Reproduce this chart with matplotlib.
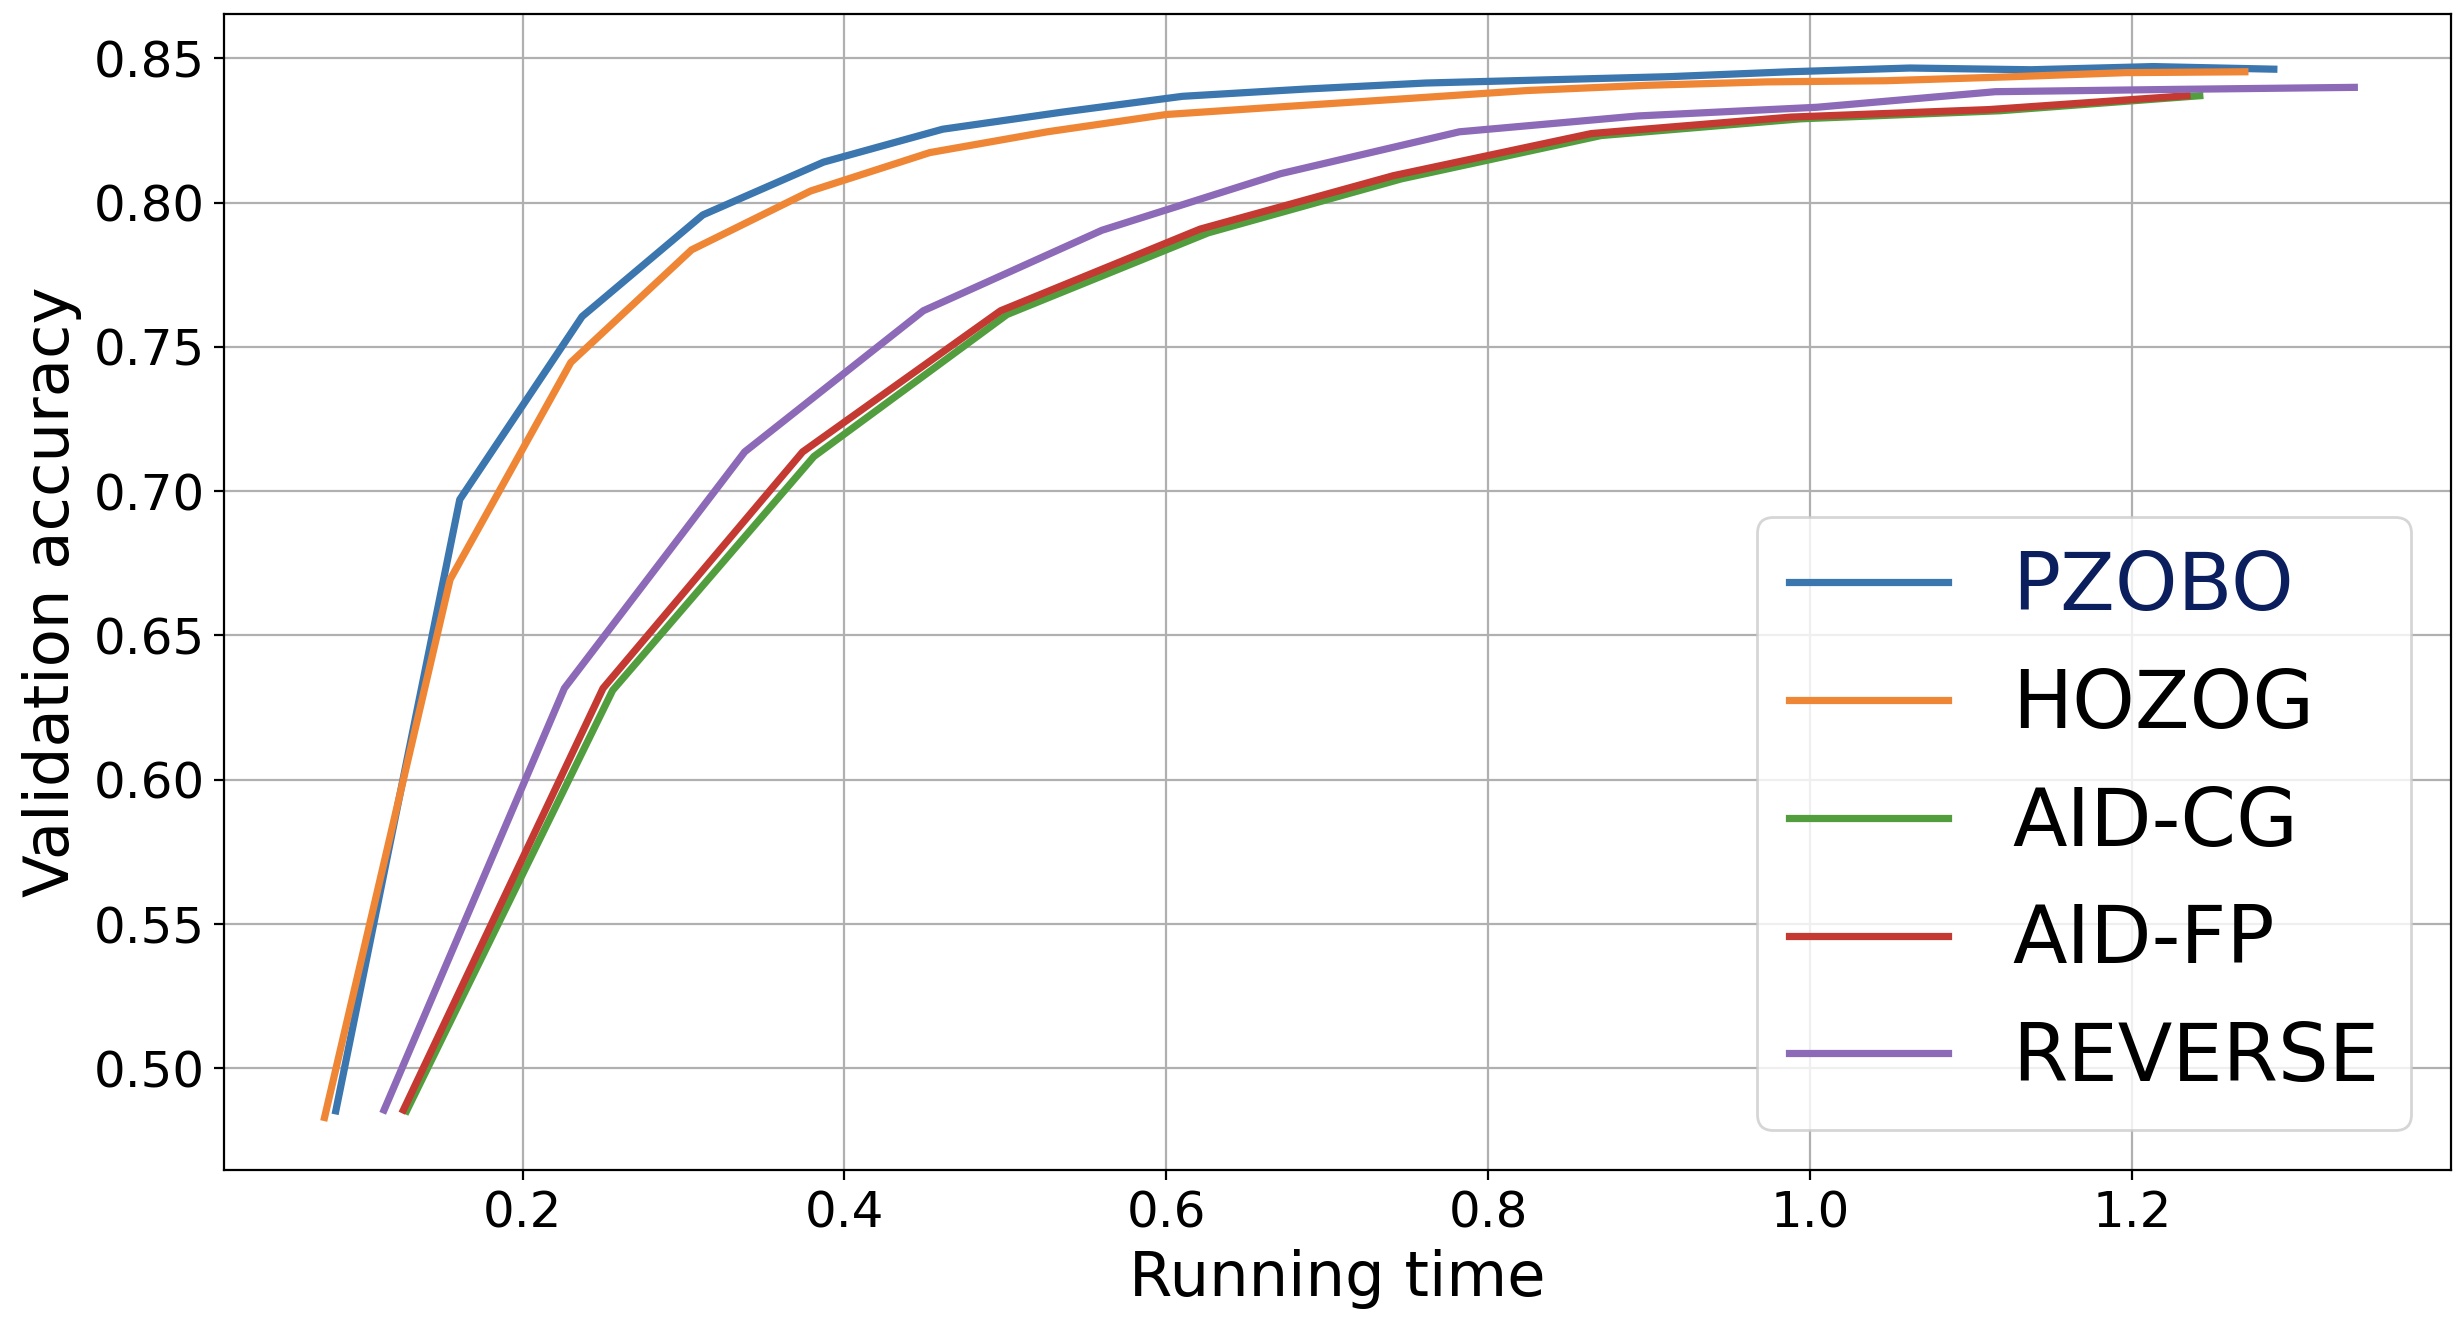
'''
Validation accuracy against running time for the bilevel solvers
'''

import matplotlib
matplotlib.use('Agg')
import matplotlib.pyplot as plt

pzobo_t = [0.084, 0.161, 0.237, 0.312, 0.387, 0.461, 0.535, 0.610, 0.686,
           0.761, 0.836, 0.912, 0.987, 1.062, 1.137, 1.213, 1.288]
pzobo_acc = [0.4853, 0.6971, 0.7605, 0.7957, 0.8140, 0.8254, 0.8313, 0.8368,
             0.8393, 0.8414, 0.8425, 0.8436, 0.8453, 0.8466, 0.8460, 0.8471, 0.8462]

hozog_t = [0.077, 0.155, 0.230, 0.305, 0.379, 0.453, 0.526, 0.600, 0.675,
           0.749, 0.824, 0.898, 0.973, 1.047, 1.121, 1.196, 1.270]
hozog_acc = [0.4830, 0.6694, 0.7446, 0.7836, 0.8040, 0.8173, 0.8245, 0.8305,
             0.8333, 0.8360, 0.8388, 0.8406, 0.8418, 0.8422, 0.8435, 0.8450, 0.8453]

aidcg_t = [0.128, 0.256, 0.381, 0.501, 0.626, 0.746, 0.870, 0.994, 1.118, 1.242]
aidcg_acc = [0.4853, 0.6310, 0.7120, 0.7612, 0.7895, 0.8082, 0.8232, 0.8290, 0.8318, 0.8370]

aidfp_t = [0.126, 0.250, 0.374, 0.497, 0.621, 0.741, 0.864, 0.988, 1.111, 1.234]
aidfp_acc = [0.4856, 0.6317, 0.7136, 0.7625, 0.7908, 0.8093, 0.8239, 0.8296, 0.8322, 0.8370]

reverse_t = [0.114, 0.226, 0.338, 0.449, 0.560, 0.671, 0.782, 0.893, 1.004,
             1.115, 1.227, 1.338]
reverse_acc = [0.4856, 0.6317, 0.7136, 0.7625, 0.7904, 0.8100, 0.8245, 0.8300,
               0.8330, 0.8384, 0.8392, 0.8399]

methods = ['PZOBO', 'HOZOG', 'AID-CG', 'AID-FP', 'REVERSE']
colors = ['#3b76af', '#ef8636', '#529e3e', '#c43a32', '#8d6ab8']
series = [(pzobo_t, pzobo_acc), (hozog_t, hozog_acc), (aidcg_t, aidcg_acc),
          (aidfp_t, aidfp_acc), (reverse_t, reverse_acc)]

fig, ax = plt.subplots(figsize=(12.3, 6.62), dpi=200)
fig.subplots_adjust(left=0.0911, right=0.9963, bottom=0.1163, top=0.9894)

for name, c, (t, acc) in zip(methods, colors, series):
    ax.plot(t, acc, color=c, linewidth=2.6, label=name)

# the reference stops just short of 1.4, so no tick there
ax.set_xlim(0.0146, 1.398)
ax.grid(True, color='#b0b0b0', linewidth=0.8)
ax.set_axisbelow(True)
ax.tick_params(labelsize=18)
ax.set_xlabel('Running time', fontsize=22.5)
ax.set_ylabel('Validation accuracy', fontsize=22.5)

leg = ax.legend(loc='lower right', fontsize=28.7)
# the first entry is drawn in dark navy in the reference
leg.get_texts()[0].set_color('#0b1f5e')

plt.savefig('out.png', dpi=200)
